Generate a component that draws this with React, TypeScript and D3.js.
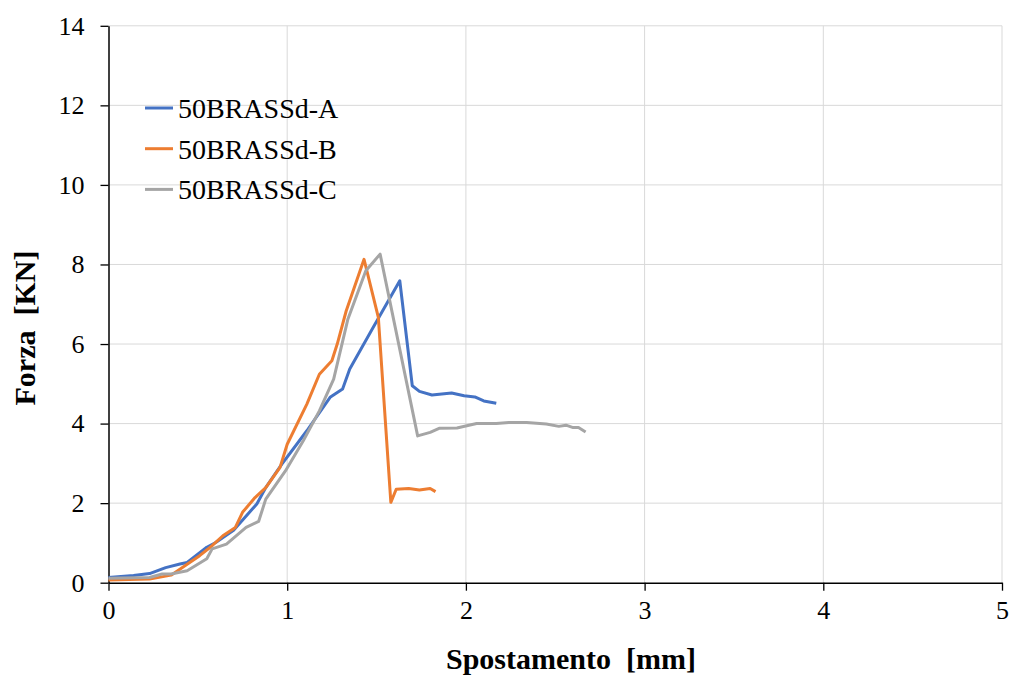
import React, { useEffect, useRef } from "react";
import * as d3 from "d3";

// Series A
const dispA = [0, 0.14, 0.23, 0.32, 0.4, 0.44, 0.55, 0.6, 0.7, 0.83, 0.88, 0.97, 1.11, 1.24, 1.31, 1.35, 1.48, 1.63, 1.7, 1.74, 1.81, 1.92, 1.99, 2.05, 2.1, 2.17];
const forceA = [0.13, 0.18, 0.23, 0.38, 0.47, 0.51, 0.89, 1.01, 1.32, 1.98, 2.39, 2.98, 3.82, 4.66, 4.87, 5.37, 6.41, 7.59, 4.95, 4.81, 4.72, 4.77, 4.7, 4.67, 4.57, 4.51];

// Series B
const dispB = [0, 0.23, 0.35, 0.43, 0.51, 0.58, 0.64, 0.71, 0.75, 0.82, 0.88, 0.96, 1.0, 1.11, 1.18, 1.25, 1.28, 1.33, 1.43, 1.51, 1.58, 1.61, 1.68, 1.74, 1.8, 1.83];
const forceB = [0.07, 0.09, 0.19, 0.43, 0.68, 0.93, 1.18, 1.39, 1.77, 2.14, 2.39, 2.9, 3.48, 4.49, 5.24, 5.58, 6.0, 6.83, 8.13, 6.67, 2.02, 2.35, 2.37, 2.33, 2.37, 2.29];

// Series C
const dispC = [0, 0.23, 0.3, 0.35, 0.44, 0.55, 0.58, 0.66, 0.77, 0.84, 0.88, 0.99, 1.09, 1.18, 1.26, 1.34, 1.44, 1.52, 1.73, 1.8, 1.85, 1.95, 2.06, 2.17, 2.24, 2.34, 2.45, 2.52, 2.56, 2.6, 2.63, 2.67];
const forceC = [0.11, 0.13, 0.22, 0.22, 0.3, 0.6, 0.85, 0.97, 1.39, 1.54, 2.1, 2.81, 3.57, 4.32, 5.12, 6.63, 7.84, 8.26, 3.69, 3.78, 3.88, 3.89, 4.0, 4.0, 4.03, 4.03, 3.99, 3.93, 3.96, 3.9, 3.9, 3.79];

const seriesNames = ["50BRASSd-A", "50BRASSd-B", "50BRASSd-C"];
const seriesColors = ["#4472C4", "#ED7D31", "#A5A5A5"];
const xTicks = [0, 1, 2, 3, 4, 5];
const yTicks = [0, 2, 4, 6, 8, 10, 12, 14];

function App() {
  const chartRef = useRef<SVGSVGElement>(null);

  useEffect(() => {
    const svg = d3.select(chartRef.current);
    svg.selectAll("*").remove();

    const width = 1011;
    const height = 677;
    const marginLeft = 108.5;
    const marginRight = 9;
    const marginTop = 25.8;
    const marginBottom = 94.3;
    const font = "'Liberation Serif', 'Times New Roman', serif";

    const x = d3.scaleLinear().domain([0, 5]).range([marginLeft, width - marginRight]);
    const y = d3.scaleLinear().domain([0, 14]).range([height - marginBottom, marginTop]);

    svg.append("rect").attr("width", width).attr("height", height).attr("fill", "#fff");

    // gridlines
    const grid = svg.append("g").attr("stroke", "#d9d9d9").attr("stroke-width", 1);
    grid
      .selectAll("line.h")
      .data(yTicks.filter(d => d > 0))
      .join("line")
      .attr("x1", x(0))
      .attr("x2", x(5))
      .attr("y1", d => y(d))
      .attr("y2", d => y(d));
    grid
      .selectAll("line.v")
      .data(xTicks.filter(d => d > 0))
      .join("line")
      .attr("x1", d => x(d))
      .attr("x2", d => x(d))
      .attr("y1", y(0))
      .attr("y2", y(14));

    // axes
    svg
      .append("g")
      .attr("transform", `translate(0,${y(0)})`)
      .call(
        d3.axisBottom(x).tickValues(xTicks).tickFormat(d3.format("d")).tickSize(8).tickPadding(10).tickSizeOuter(0)
      )
      .call(g => g.select(".domain").attr("stroke", "#000").attr("stroke-width", 1.5))
      .call(g => g.selectAll(".tick line").attr("stroke", "#000").attr("stroke-width", 1.3))
      .call(g => g.selectAll("text").attr("font-family", font).attr("font-size", 26).attr("fill", "#000"));

    svg
      .append("g")
      .attr("transform", `translate(${x(0)},0)`)
      .call(
        d3.axisLeft(y).tickValues(yTicks).tickFormat(d3.format("d")).tickSize(8).tickPadding(16).tickSizeOuter(0)
      )
      .call(g => g.select(".domain").attr("stroke", "#000").attr("stroke-width", 1.5))
      .call(g => g.selectAll(".tick line").attr("stroke", "#000").attr("stroke-width", 1.3))
      .call(g => g.selectAll("text").attr("font-family", font).attr("font-size", 26).attr("fill", "#000"));

    // lines
    const series = [
      { xs: dispA, ys: forceA },
      { xs: dispB, ys: forceB },
      { xs: dispC, ys: forceC },
    ];
    const line = d3
      .line<[number, number]>()
      .x(d => x(d[0]))
      .y(d => y(d[1]));

    series.forEach((s, i) => {
      const pts = s.xs.map((v, j) => [v, s.ys[j]] as [number, number]);
      svg
        .append("path")
        .datum(pts)
        .attr("fill", "none")
        .attr("stroke", seriesColors[i])
        .attr("stroke-width", 3)
        .attr("stroke-linejoin", "round")
        .attr("d", line);
    });

    // legend
    const legend = svg.append("g").attr("transform", "translate(145,108)");
    seriesNames.forEach((name, i) => {
      const row = legend.append("g").attr("transform", `translate(0,${i * 40.7})`);
      row
        .append("line")
        .attr("x1", 0)
        .attr("x2", 28)
        .attr("stroke", seriesColors[i])
        .attr("stroke-width", 3);
      row
        .append("text")
        .attr("x", 33)
        .attr("dy", "0.35em")
        .attr("font-family", font)
        .attr("font-size", 28)
        .attr("fill", "#000")
        .text(name);
    });

    // axis titles
    svg
      .append("text")
      .attr("x", 571)
      .attr("y", 669)
      .attr("text-anchor", "middle")
      .attr("font-family", font)
      .attr("font-weight", "bold")
      .attr("font-size", 30)
      .attr("fill", "#000")
      .style("white-space", "pre")
      .text("Spostamento  [mm]");

    svg
      .append("text")
      .attr("transform", "translate(35,328) rotate(-90)")
      .attr("text-anchor", "middle")
      .attr("font-family", font)
      .attr("font-weight", "bold")
      .attr("font-size", 30)
      .attr("fill", "#000")
      .style("white-space", "pre")
      .text("Forza  [KN]");
  }, []);

  return (
    <svg
      ref={chartRef}
      width={1011}
      height={677}
      viewBox="0 0 1011 677"
      style={{ position: "absolute", left: 0, top: 0 }}
    />
  );
}

export default App;
